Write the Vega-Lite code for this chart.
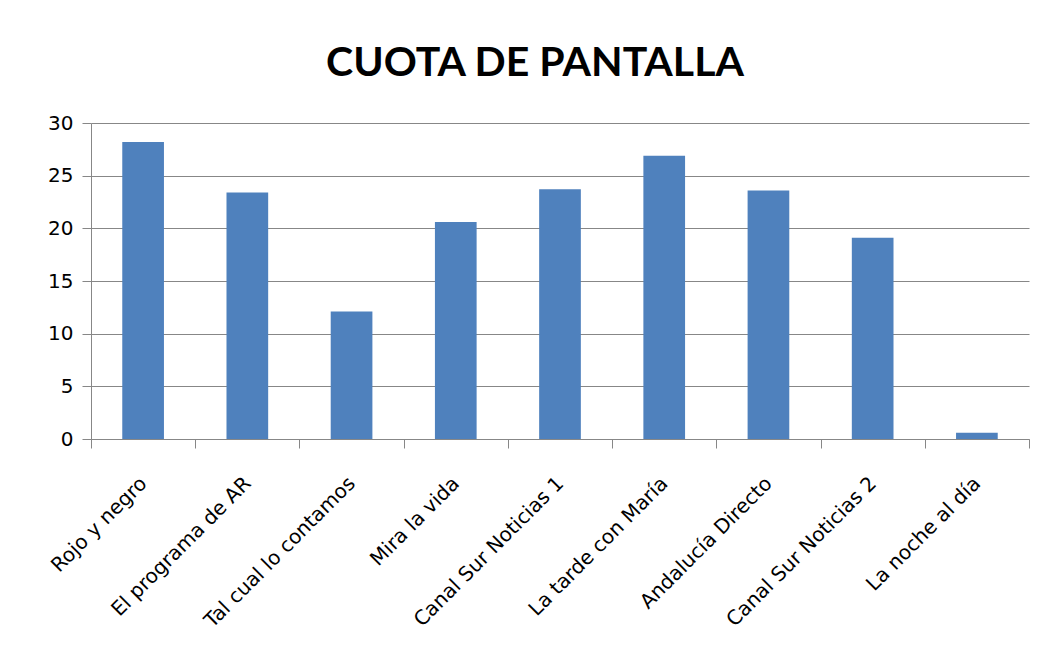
{
  "$schema": "https://vega.github.io/schema/vega-lite/v6.json",
  "width": 938,
  "height": 316,
  "autosize": "none",
  "padding": {"left": 91, "top": 123, "right": 19, "bottom": 226},
  "background": "white",
  "title": {
    "text": "CUOTA DE PANTALLA",
    "font": "Lato",
    "fontSize": 41,
    "fontWeight": "bold",
    "color": "#000000",
    "anchor": "middle",
    "dx": -25,
    "offset": 28
  },
  "data": {
    "values": [
      {"programa": "Rojo y negro", "cuota": 28.2},
      {"programa": "El programa de AR", "cuota": 23.4},
      {"programa": "Tal cual lo contamos", "cuota": 12.1},
      {"programa": "Mira la vida", "cuota": 20.6},
      {"programa": "Canal Sur Noticias 1", "cuota": 23.7},
      {"programa": "La tarde con María", "cuota": 26.9},
      {"programa": "Andalucía Directo", "cuota": 23.6},
      {"programa": "Canal Sur Noticias 2", "cuota": 19.1},
      {"programa": "La noche al día", "cuota": 0.6}
    ]
  },
  "mark": {"type": "bar", "color": "#4F81BD", "width": {"band": 0.4}},
  "encoding": {
    "x": {
      "field": "programa",
      "type": "nominal",
      "sort": null,
      "scale": {"paddingInner": 0, "paddingOuter": 0},
      "axis": {
        "title": null,
        "labelAngle": -45,
        "labelAlign": "right",
        "labelBaseline": "middle",
        "labelFont": "DejaVu Sans",
        "labelFontSize": 20,
        "labelColor": "#000000",
        "labelPadding": 32,
        "labelLimit": 400,
        "tickBand": "extent",
        "tickSize": 9,
        "tickColor": "#878787",
        "domainColor": "#878787",
        "grid": false
      }
    },
    "y": {
      "field": "cuota",
      "type": "quantitative",
      "scale": {"domain": [0, 30]},
      "axis": {
        "title": null,
        "values": [0, 5, 10, 15, 20, 25, 30],
        "labelFont": "DejaVu Sans",
        "labelFontSize": 20,
        "labelColor": "#000000",
        "labelPadding": 9,
        "tickSize": 9,
        "tickColor": "#878787",
        "domainColor": "#878787",
        "gridColor": "#878787",
        "gridOpacity": 1
      }
    }
  },
  "config": {"view": {"stroke": null}}
}
